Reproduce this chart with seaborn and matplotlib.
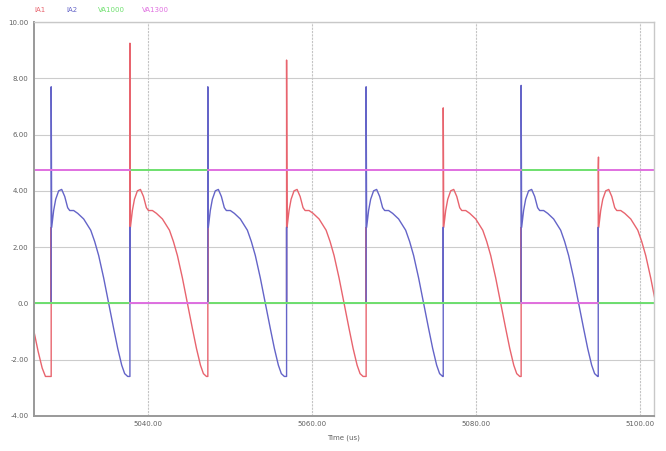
import matplotlib
matplotlib.use('Agg')
import matplotlib.pyplot as plt
import pandas as pd
import seaborn as sns

series_names = ['IA1', 'IA2', 'VA1000', 'VA1300']
series_colors = ['#e8646e', '#6464c8', '#6ee06e', '#e070e0']

# switching instants (us), the phase that takes over, and its spike peak
switch_times = [5028.2, 5037.8, 5047.3, 5056.9, 5066.6, 5076.0, 5085.5, 5094.9]
incoming = ['IA2', 'IA1', 'IA2', 'IA1', 'IA2', 'IA1', 'IA2', 'IA1']
spike_peaks = [7.7, 9.25, 7.7, 8.65, 7.7, 6.95, 7.75, 4.8]

# one conduction pulse: time after switching (us), current
pulse_dt = [0.0, 0.24, 0.49, 0.85, 1.22, 1.59, 1.95, 2.2, 2.68, 3.17, 3.9,
            4.76, 5.24, 5.73, 6.34, 6.95, 7.56, 8.05, 8.54, 8.9, 9.27]
pulse_val = [2.7, 3.3, 3.7, 4.0, 4.05, 3.8, 3.4, 3.3, 3.3, 3.2, 3.0,
             2.6, 2.2, 1.7, 0.9, 0.0, -0.9, -1.6, -2.2, -2.5, -2.6]

# tail of IA1 before the first switching
ia1_start_t = [5026.1, 5026.6, 5027.1, 5027.5]
ia1_start_v = [-1.0, -1.7, -2.3, -2.6]

# gate signals: edges and which one is high in each interval
gate_level = 4.75
gate_edges = [5026.1, 5037.8, 5047.3, 5056.9, 5066.6, 5076.0, 5085.5, 5094.9, 5101.7]
gate_on = ['VA1300', 'VA1000', 'VA1300', 'VA1300', 'VA1300', 'VA1300', 'VA1000', 'VA1300']

t_start, t_end = 5026.1, 5101.7
y_ticks = [-4, -2, 0, 2, 4, 6, 8, 10]
y_ticklabels = ['-4.00', '-2.00', '0.0', '2.00', '4.00', '6.00', '8.00', '10.00']
x_ticks = [5040, 5060, 5080, 5100]
x_ticklabels = ['5040.00', '5060.00', '5080.00', '5100.00']

# %%
# build the current traces
traces = {'IA1': (list(ia1_start_t), list(ia1_start_v)),
          'IA2': ([t_start], [0.0])}
for tc, name, peak in zip(switch_times, incoming, spike_peaks):
    other = 'IA1' if name == 'IA2' else 'IA2'
    t, v = traces[other]
    t += [tc, tc, tc]
    v += [-2.6, 2.7, 0.0]
    t, v = traces[name]
    t += [tc, tc, tc + 0.03]
    v += [0.0, peak, 5.2]
    t += [tc + 0.06 + d for d in pulse_dt]
    v += pulse_val
traces['IA2'][0].append(t_end)
traces['IA2'][1].append(0.0)

rows = []
for name in series_names[:2]:
    t, v = traces[name]
    rows.append(pd.DataFrame({'time': t, 'value': v, 'series': name}))
currents = pd.concat(rows, ignore_index=True)

# gate levels, one flat piece per interval (edges are hidden under the currents)
rows = []
for g in series_names[2:]:
    for i, on in enumerate(gate_on):
        lvl = gate_level if on == g else 0.0
        rows.append(pd.DataFrame({'time': [gate_edges[i], gate_edges[i + 1]],
                                  'value': [lvl, lvl], 'series': g,
                                  'piece': f'{g}-{i}'}))
gates = pd.concat(rows, ignore_index=True)

# %%
sns.set_style('white')
fig = plt.figure(figsize=(6.66, 4.51), dpi=100)
ax = fig.add_axes([0.051, 0.078, 0.931, 0.873])

sns.lineplot(data=currents, x='time', y='value', hue='series',
             hue_order=series_names[:2], palette=series_colors[:2],
             estimator=None, sort=False, legend=False, linewidth=1.0, ax=ax)
sns.lineplot(data=gates, x='time', y='value', hue='series', units='piece',
             hue_order=series_names[2:], palette=series_colors[2:],
             estimator=None, sort=False, legend=False, linewidth=1.4, ax=ax)

ax.set_xlim(t_start, t_end)
ax.set_ylim(-4, 10)
ax.set_yticks(y_ticks)
ax.set_yticklabels(y_ticklabels)
ax.set_xticks(x_ticks)
ax.set_xticklabels(x_ticklabels)
ax.tick_params(length=0, labelsize=5, colors='#606060', pad=4)
ax.set_xlabel('Time (us)', fontsize=5, color='#606060', labelpad=5)
ax.set_ylabel('')

for y in y_ticks:
    ax.axhline(y, color='#cccccc', linewidth=0.8, zorder=0)
for x in x_ticks:
    ax.axvline(x, color='#c4c4c4', linewidth=0.8, linestyle=(0, (2, 1)), zorder=0)

for side in ['top', 'right']:
    ax.spines[side].set_color('#c8c8c8')
    ax.spines[side].set_linewidth(1.0)
for side in ['left', 'bottom']:
    ax.spines[side].set_color('#999999')
    ax.spines[side].set_linewidth(1.4)

# legend as coloured labels across the top
label_x = [0.051, 0.100, 0.147, 0.213]
for name, color, x in zip(series_names, series_colors, label_x):
    fig.text(x, 0.978, name, color=color, fontsize=5, va='center')

fig.savefig('out.png', dpi=100)
